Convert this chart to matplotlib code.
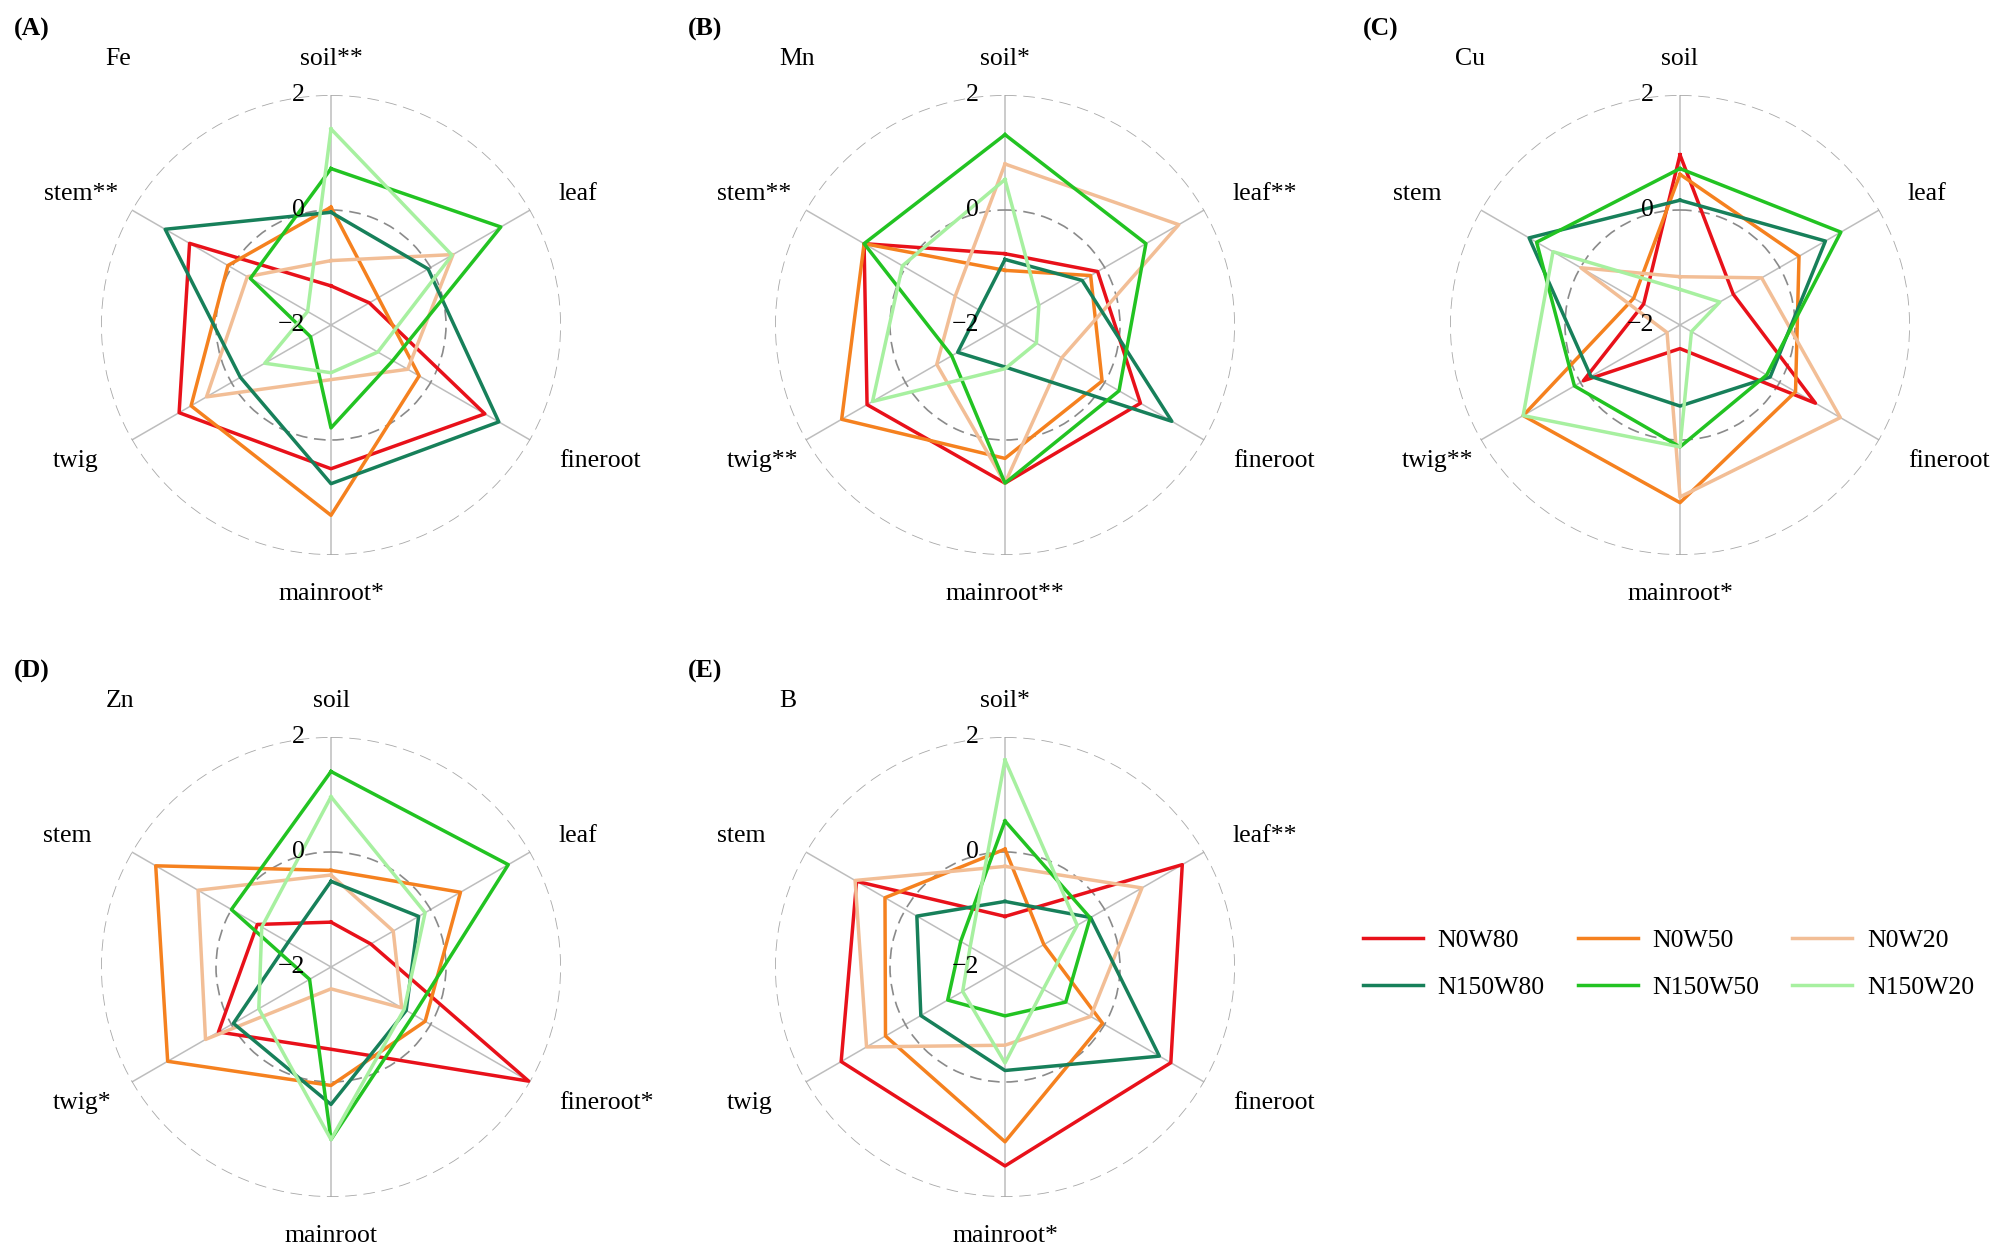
#radar chart dei micronutrienti (Fe, Mn, Cu, Zn, B) per organo e trattamento
from matplotlib import pyplot as plt
import numpy as np

plt.rcParams['font.family'] = ['Liberation Serif', 'DejaVu Serif']

#organi (assi del radar) e trattamenti (serie)
organs = ['soil', 'leaf', 'fineroot', 'mainroot', 'twig', 'stem']
treatments = ['N0W80', 'N0W50', 'N0W20', 'N150W80', 'N150W50', 'N150W20']
colors = ['#E8111A', '#F5811F', '#F2BE96', '#17805A', '#22C322', '#A7F0A0']

#asterischi di significativita per organo
fe_stars = ['**', '', '', '*', '', '**']
mn_stars = ['*', '**', '', '**', '**', '**']
cu_stars = ['', '', '', '*', '**', '']
zn_stars = ['', '', '*', '', '*', '']
b_stars = ['*', '**', '', '*', '', '']

#valori standardizzati (una riga per trattamento, ordine come organs)
fe_values = [
    [-1.32, -1.23, 1.09, 0.50, 1.05, 0.84],
    [0.05, -1.05, -0.23, 1.31, 0.81, 0.07],
    [-0.88, 0.45, -0.46, -1.05, 0.50, -0.32],
    [-0.04, -0.05, 1.37, 0.76, -0.18, 1.33],
    [0.72, 1.41, -0.76, -0.21, -1.59, -0.38],
    [1.41, 0.43, -1.06, -1.17, -0.67, -1.53],
]
mn_values = [
    [-0.76, -0.14, 0.72, 0.75, 0.77, 0.83],
    [-1.05, -0.28, -0.05, 0.32, 1.28, 0.83],
    [0.80, 1.49, -0.86, 0.75, -0.63, -1.00],
    [-0.86, -0.45, 1.35, -1.27, -1.05, -1.48],
    [1.31, 0.83, 0.29, 0.75, -0.93, 0.83],
    [0.53, -1.32, -1.37, -1.24, 0.66, 0.06],
]
cu_values = [
    [0.96, -0.93, 0.72, -1.59, -0.06, -1.27],
    [0.62, 0.39, 0.32, 1.09, 1.15, -1.07],
    [-1.16, -0.36, 1.22, 0.99, -1.74, -0.01],
    [0.17, 0.92, -0.19, -0.59, -0.21, 1.03],
    [0.72, 1.23, -0.26, 0.12, 0.12, 0.88],
    [-1.38, -1.20, -1.77, 0.12, 1.15, 0.55],
]
zn_values = [
    [-1.22, -1.20, 1.97, -0.57, 0.26, -0.52],
    [-0.32, 0.60, -0.11, 0.06, 1.28, 1.52],
    [-0.40, -0.75, -0.58, -1.62, 0.52, 0.67],
    [-0.51, -0.24, -0.49, 0.39, -0.04, -1.14],
    [1.40, 1.56, -0.34, 1.00, -1.57, 0.00],
    [0.96, -0.11, -0.53, 1.00, -0.55, -0.61],
]
b_values = [
    [-1.12, 1.56, 1.33, 1.46, 1.29, 0.98],
    [0.05, -1.22, -0.04, 1.04, 0.40, 0.41],
    [-0.25, 0.75, -0.28, -0.64, 0.78, 1.01],
    [-0.86, -0.28, 1.10, -0.20, -0.31, -0.23],
    [0.54, -0.29, -0.78, -1.15, -0.85, -1.11],
    [1.60, -0.55, -1.23, -0.33, -1.15, -1.30],
]

#pannelli: lettera, elemento, asterischi, valori, centro in pixel
panels = [
    ('(A)', 'Fe', fe_stars, fe_values, (331, 325)),
    ('(B)', 'Mn', mn_stars, mn_values, (1005, 325)),
    ('(C)', 'Cu', cu_stars, cu_values, (1680, 325)),
    ('(D)', 'Zn', zn_stars, zn_values, (331, 967)),
    ('(E)', 'B', b_stars, b_values, (1005, 967)),
]

W, H, R = 2004, 1256, 230
fs = 18.5
fig = plt.figure(figsize=(W / 100, H / 100), dpi=100)

angles = np.linspace(0, 2 * np.pi, len(organs), endpoint=False)
#posizione delle etichette degli organi (in unita di raggio) e allineamento
label_pos = [(0, 1.156, 'center'), (0.99, 0.57, 'left'), (0.99, -0.59, 'left'),
             (0, -1.17, 'center'), (-1.21, -0.59, 'left'), (-1.25, 0.57, 'left')]

axes = []
for letter, element, stars, values, (cx, cy) in panels:
    ax = fig.add_axes([(cx - R) / W, (H - cy - R) / H, 2 * R / W, 2 * R / H],
                      projection='polar')
    ax.set_theta_zero_location('N')
    ax.set_theta_direction(-1)

    for vals, col, name in zip(values, colors, treatments):
        ax.plot(np.append(angles, angles[0]), np.append(vals, vals[0]),
                color=col, lw=2.5, label=name)

    ax.set_ylim(-2, 2)
    ax.set_xticks(angles)
    ax.set_xticklabels([])
    ax.set_yticks([0, 2])
    ax.set_yticklabels([])
    ax.tick_params(length=0)
    ax.spines['polar'].set_visible(False)
    ax.xaxis.grid(True, color='#BDBDBD', lw=1.1, ls='-')
    ax.yaxis.grid(True, lw=1.2, ls=(0, (7, 4)))
    gl = ax.yaxis.get_gridlines()
    gl[0].set_color('#8A8A8A')
    gl[1].set_color('#A8A8A8')

    #etichette della scala radiale
    for r, s in zip([2, 0, -2], ['2', '0', '\u22122']):
        ax.annotate(s, xy=(0, r), xytext=(-19, 0), textcoords='offset points',
                    ha='right', va='center', fontsize=fs)

    #etichette degli organi con asterischi
    for org, st, (px, py, ha) in zip(organs, stars, label_pos):
        ax.text(0.5 + 0.5 * px, 0.5 + 0.5 * py, org + st, transform=ax.transAxes,
                ha=ha, va='center', fontsize=fs)

    ax.text(0.5 - 0.5 * 0.98, 0.5 + 0.5 * 1.156, element, transform=ax.transAxes,
            ha='left', va='center', fontsize=fs)
    ax.text(0.5 - 0.5 * 1.38, 0.5 + 0.5 * 1.285, letter, transform=ax.transAxes,
            ha='left', va='center', fontsize=fs, fontweight='bold')
    axes.append(ax)

#legenda su due righe (ordine per colonne)
handles, labels = axes[0].get_legend_handles_labels()
order = [0, 3, 1, 4, 2, 5]
fig.legend([handles[i] for i in order], [labels[i] for i in order], ncol=3,
           loc='center left', bbox_to_anchor=(1363 / W, 1 - 964 / H),
           frameon=False, fontsize=fs, handlelength=2.33, handletextpad=0.58,
           columnspacing=1.28, labelspacing=0.92, borderpad=0, borderaxespad=0)

plt.savefig('out.png', dpi=100)
plt.close()
